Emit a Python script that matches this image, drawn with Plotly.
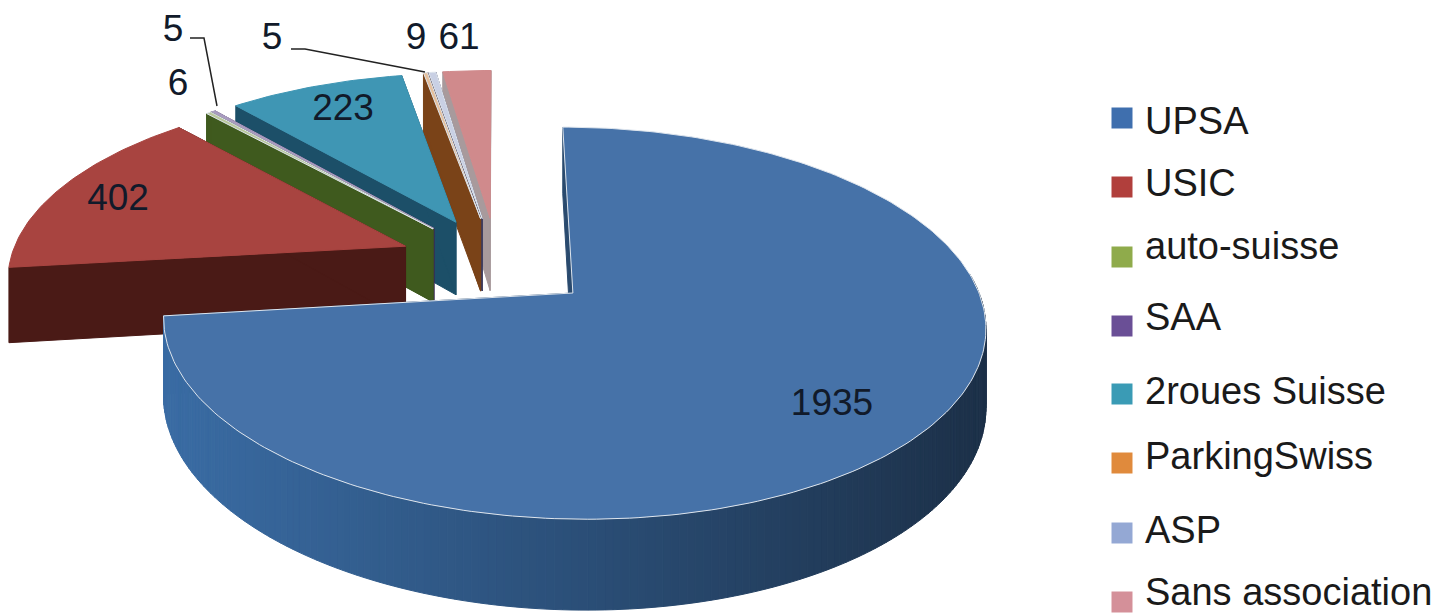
import numpy as np
import plotly.graph_objects as go

categories = ["UPSA", "USIC", "auto-suisse", "SAA", "2roues Suisse", "ParkingSwiss", "ASP", "Sans association"]
values = [1935, 402, 6, 5, 223, 5, 9, 61]
legend_colors = ["#3f6fae", "#b13f3c", "#8fab4b", "#6a4f96", "#3a9bb5", "#e08a3c", "#94a8d4", "#d49099"]
top_colors = ["#4672a8", "#a84440", "#b9c79a", "#a99cc0", "#3f96b4", "#e6c09c", "#c9d0e4", "#d08a8c"]
wall_colors = ["#2a4a6e", "#4a1a16", "#3f5a1e", "#3a2a55", "#1c4f68", "#7a4318", "#3a3a60", "#a89a9c"]
wall_ramp = ["#3a6ca4", "#2b4f78", "#1c3048"]

label_x = [832, 118, 178, 173, 343, 272, 416, 459]
label_y = [406, 201, 86, 32, 111, 40, 40, 40]
legend_y = [118, 187, 257, 326, 394, 463, 533, 602]
legend_text_y = [124, 186, 249, 320, 394, 459, 533, 595]

OX, OY, RX, RY, K, EXPLODE, DEPTH, START = 497, 262, 396, 182, 0.15, 0.25, 75, 0.0


def project(X, Y, drop=0.0):
    w = 1 - K * np.asarray(Y)
    return OX + RX * np.asarray(X) / w, OY + RY * np.asarray(Y) / w + drop / w


def mix(a, b, t):
    ca = [int(a[i:i + 2], 16) for i in (1, 3, 5)]
    cb = [int(b[i:i + 2], 16) for i in (1, 3, 5)]
    return "rgb(%d,%d,%d)" % tuple(round(p + (q - p) * t) for p, q in zip(ca, cb))


fig = go.Figure()


def poly(x, y, color, line=None, lw=1):
    fig.add_trace(go.Scatter(x=list(x), y=list(y), mode="lines", fill="toself", fillcolor=color,
                             line=dict(color=line or color, width=lw), hoverinfo="skip", showlegend=False))


total = sum(values)
edges = START + np.concatenate([[0], np.cumsum(values)]) / total * 360
for i in range(len(values) - 1, -1, -1):
    a0, a1 = np.radians(edges[i]), np.radians(edges[i + 1])
    mid = (a0 + a1) / 2
    ax, ay = EXPLODE * np.sin(mid), -EXPLODE * np.cos(mid)
    t = np.linspace(a0, a1, max(3, int(np.degrees(a1 - a0))))
    rx, ry = ax + np.sin(t), ay - np.cos(t)
    # cut faces
    for end in (0, -1):
        gx, gy = np.array([ax, rx[end]]), np.array([ay, ry[end]])
        x1, y1 = project(gx, gy)
        x2, y2 = project(gx, gy, DEPTH)
        c = wall_colors[i]
        poly(np.r_[x1, x2[::-1], x1[0]], np.r_[y1, y2[::-1], y1[0]], c)
    # outer rim wall
    if i == 0:
        px1, py1 = project(rx, ry)
        px2, py2 = project(rx, ry, DEPTH)
        lo, hi = px1.min(), px1.max()
        for j in range(len(t) - 1):
            if -np.cos(t[j]) < -0.1:
                continue
            f = ((px1[j] + px1[j + 1]) / 2 - lo) / (hi - lo)
            col = mix(wall_ramp[0], wall_ramp[1], f / 0.5) if f < 0.5 else mix(wall_ramp[1], wall_ramp[2], (f - 0.5) / 0.5)
            poly([px1[j], px1[j + 1], px2[j + 1], px2[j], px1[j]], [py1[j], py1[j + 1], py2[j + 1], py2[j], py1[j]], col)
    # top face
    x, y = project(np.r_[ax, rx, ax], np.r_[ay, ry, ay])
    poly(x, y, top_colors[i], line="#dfe6ee" if i in (0, 2, 5, 6) else top_colors[i], lw=1)

# leader lines
fig.add_trace(go.Scatter(x=[190, 204, 217], y=[38, 38, 106], mode="lines", line=dict(color="#222", width=1.5),
                         hoverinfo="skip", showlegend=False))
fig.add_trace(go.Scatter(x=[291, 305, 425], y=[49, 49, 72], mode="lines", line=dict(color="#222", width=1.5),
                         hoverinfo="skip", showlegend=False))

# value labels
fig.add_trace(go.Scatter(x=label_x, y=label_y, mode="text", text=[str(v) for v in values],
                         textposition="middle center",
                         textfont=dict(family="Liberation Sans", size=37, color="#111a2a"),
                         hoverinfo="skip", showlegend=False))

# legend
fig.add_trace(go.Scatter(x=[1122] * len(categories), y=legend_y, mode="markers",
                         marker=dict(symbol="square", size=21, color=legend_colors, line=dict(width=0)),
                         hoverinfo="skip", showlegend=False))
fig.add_trace(go.Scatter(x=[1145] * len(categories), y=legend_text_y, mode="text", text=categories,
                         textposition="middle right",
                         textfont=dict(family="Liberation Sans", size=38, color="#1a1a1a"),
                         hoverinfo="skip", showlegend=False))

fig.update_layout(width=1445, height=613, margin=dict(l=0, r=0, t=0, b=0), paper_bgcolor="white", plot_bgcolor="white",
                  xaxis=dict(range=[0, 1445], visible=False, fixedrange=True),
                  yaxis=dict(range=[613, 0], visible=False, fixedrange=True), showlegend=False)
fig.write_html("out.html", config=dict(displayModeBar=False),
               post_script="document.body.style.margin='0';document.body.style.overflow='hidden';")
